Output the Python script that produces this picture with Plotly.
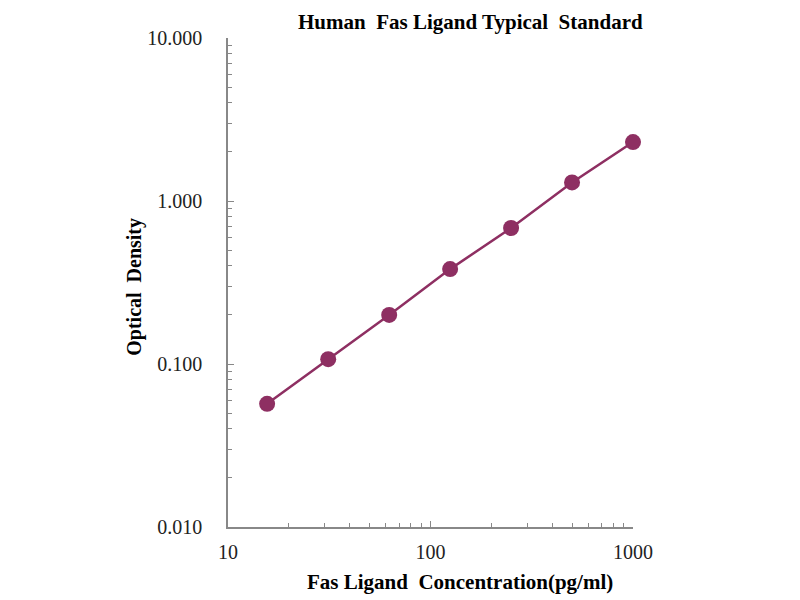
import plotly.graph_objects as go

concentration = [15.6, 31.25, 62.5, 125, 250, 500, 1000]
optical_density = [0.057, 0.107, 0.200, 0.382, 0.683, 1.30, 2.30]
x_ticks = [10, 100, 1000]
y_ticks = [0.01, 0.1, 1, 10]

color = "#8E2F62"
serif = "Liberation Serif, Times New Roman, serif"
minor_x = [m * d for d in (10, 100) for m in range(2, 10)]
minor_y = [m * d for d in (0.01, 0.1, 1) for m in range(2, 10)]

fig = go.Figure(go.Scatter(
    x=concentration, y=optical_density, mode="lines+markers",
    line=dict(color=color, width=2.5),
    marker=dict(color=color, size=16),
    cliponaxis=False,
))

tickfont = dict(family=serif, color="#222", size=20)
axis_common = dict(
    type="log", showgrid=False, zeroline=False, showline=True,
    linecolor="#888888", linewidth=1.5, ticks="inside", ticklen=6,
    tickcolor="#888888", tickfont=tickfont,
)
fig.update_layout(
    width=800, height=600, plot_bgcolor="white", paper_bgcolor="white",
    margin=dict(l=220, r=175, t=30, b=81),
    showlegend=False,
    xaxis=dict(axis_common, range=[1, 3], tickvals=x_ticks, ticktext=[str(v) for v in x_ticks],
               ticklabelstandoff=6,
               minor=dict(ticks="inside", ticklen=4, tickcolor="#888888", tickvals=minor_x)),
    yaxis=dict(axis_common, range=[-2, 1], tickvals=y_ticks, ticktext=["%.3f" % v for v in y_ticks],
               ticklabelstandoff=20,
               minor=dict(ticks="inside", ticklen=4, tickcolor="#888888", tickvals=minor_y)),
    annotations=[
        dict(text="<b>Human  Fas Ligand Typical  Standard</b>", xref="paper", yref="paper",
             x=0.598, y=1.0327, xanchor="center", yanchor="middle", showarrow=False,
             borderpad=0, font=dict(family=serif, size=21, color="#000")),
        dict(text="<b>Fas Ligand  Concentration(pg/ml)</b>", xref="paper", yref="paper",
             x=0.573, y=-0.113, xanchor="center", yanchor="middle", showarrow=False,
             font=dict(family=serif, size=21, color="#000")),
        dict(text="<b>Optical  Density</b>", xref="paper", yref="paper", textangle=-90,
             x=-0.23, y=0.491, xanchor="center", yanchor="middle", showarrow=False,
             font=dict(family=serif, size=20, color="#000")),
    ],
)
fig.write_html("out.html")
